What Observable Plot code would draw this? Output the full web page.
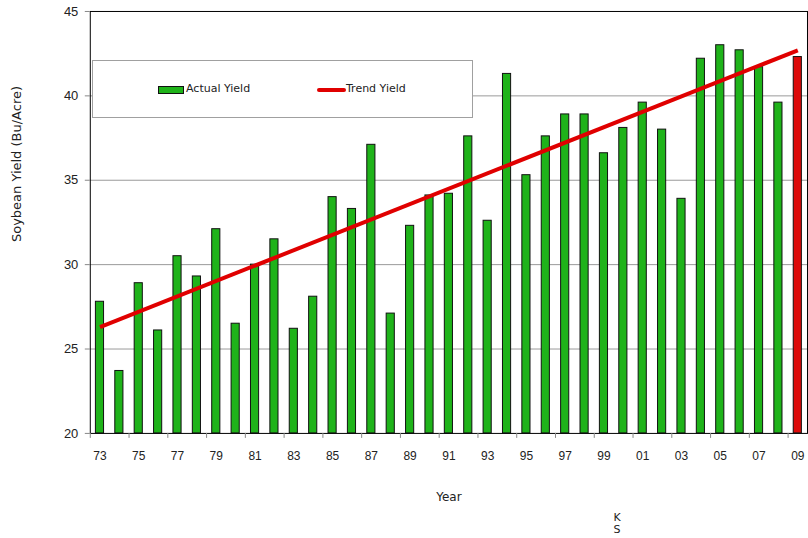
<!DOCTYPE html>
<html>
<head>
<meta charset="utf-8">
<script src="https://cdn.jsdelivr.net/npm/d3@7"></script>
<script src="https://cdn.jsdelivr.net/npm/@observablehq/plot@0.6"></script>
<style>
  html, body { margin: 0; padding: 0; background: #fff; }
  #wrap { position: relative; width: 808px; height: 538px; overflow: hidden; font-family: "DejaVu Sans", Verdana, sans-serif; }
  #wrap svg { position: absolute; left: 0; top: 0; }
  #legend { position: absolute; left: 92px; top: 60px; width: 381px; height: 58px; box-sizing: border-box;
            border: 1px solid #a0a0a0; background: #fff; font-size: 11px; color: #222; }
  .sw { position: absolute; box-sizing: border-box; }
  .lt { position: absolute; line-height: 14px; white-space: nowrap; }
  #note { position: absolute; left: 611px; top: 512px; width: 12px; text-align: center; font-size: 11px; line-height: 12px; color: #222; }
  #ytitle { position: absolute; left: 16.5px; top: 164px; width: 0; height: 0; }
  #ytitle span { position: absolute; white-space: nowrap; font-size: 13px; color: #222;
                 transform: translate(-50%, -50%) rotate(-90deg); left: 0; top: 0; line-height: 16px; }
</style>
</head>
<body>
<div id="wrap"></div>
<script>
// ---- data ----
const years = [1973,1974,1975,1976,1977,1978,1979,1980,1981,1982,1983,1984,1985,1986,1987,1988,1989,1990,1991,1992,1993,1994,1995,1996,1997,1998,1999,2000,2001,2002,2003,2004,2005,2006,2007,2008,2009];
const actualYield = [27.8,23.7,28.9,26.1,30.5,29.3,32.1,26.5,30.0,31.5,26.2,28.1,34.0,33.3,37.1,27.1,32.3,34.1,34.2,37.6,32.6,41.3,35.3,37.6,38.9,38.9,36.6,38.1,39.6,38.0,33.9,42.2,43.0,42.7,41.7,39.6,42.3];
const trendYears = [1973, 2009];
const trendYield = [26.3, 42.7];
const highlightYear = 2009;
const seriesNames = ["Actual Yield", "Trend Yield"];
const yTicks = [20, 25, 30, 35, 40, 45];
const xLabelYears = [1973,1975,1977,1979,1981,1983,1985,1987,1989,1991,1993,1995,1997,1999,2001,2003,2005,2007,2009];
const xTickLabels = ["73","75","77","79","81","83","85","87","89","91","93","95","97","99","01","03","05","07","09"];
const yTitle = "Soybean Yield (Bu/Acre)";
const xTitle = "Year";
const noteText = ["K", "S"];

const green = "#1fb31a";
const red = "#dd0a0a";

// ---- tables ----
const rows = years.map((y, i) => ({year: y, value: actualYield[i]}));
const trend = trendYears.map((y, i) => ({year: y, value: trendYield[i]}));
const half = 0.21;
const bandBoundaries = xLabelYears.map(y => y - 0.5);
const yMin = yTicks[0];

const chart = Plot.plot({
  width: 810,
  height: 538,
  marginTop: 11,
  marginBottom: 104,
  marginLeft: 90,
  marginRight: 1,
  style: {fontFamily: "DejaVu Sans, Verdana, sans-serif", fontSize: "11px", color: "#222", background: "transparent"},
  x: {domain: [years[0] - 0.5, years[years.length - 1] + 0.5]},
  y: {domain: [yTicks[0], yTicks[yTicks.length - 1]]},
  marks: [
    Plot.ruleY(yTicks.slice(1, -1), {stroke: "#9a9a9a", strokeWidth: 1}),
    Plot.rectY(rows, {
      x1: d => d.year - half,
      x2: d => d.year + half,
      y1: yMin,
      y2: "value",
      fill: d => d.year === highlightYear ? red : green,
      stroke: "#111",
      strokeWidth: 1
    }),
    Plot.frame({stroke: "#000", strokeWidth: 1}),
    Plot.line(trend, {x: "year", y: "value", stroke: "#e00000", strokeWidth: 4, strokeLinecap: "butt"}),
    Plot.axisY({
      ticks: yTicks, tickSize: 5, tickPadding: 7, stroke: "#888", fontSize: 13,
      fontFamily: "Liberation Sans, Arial, sans-serif", label: null
    }),
    Plot.axisX({ticks: bandBoundaries, tickSize: 5, tickFormat: () => "", stroke: "#888", label: null}),
    Plot.axisX({
      ticks: xLabelYears, tickSize: 0, tickPadding: 18, fontSize: 12,
      fontFamily: "Liberation Sans, Arial, sans-serif",
      tickFormat: d => xTickLabels[xLabelYears.indexOf(d)],
      label: xTitle, labelAnchor: "center", labelOffset: 68, labelArrow: "none"
    })
  ]
});

const wrap = document.getElementById("wrap");
wrap.appendChild(chart);

chart.querySelectorAll("text").forEach(t => {
  if (t.textContent === xTitle) { t.setAttribute("font-size", "12"); t.setAttribute("font-family", "DejaVu Sans, Verdana, sans-serif"); }
});

// ---- y title ----
const yt = document.createElement("div");
yt.id = "ytitle";
yt.innerHTML = `<span>${yTitle}</span>`;
wrap.appendChild(yt);

// ---- legend (inside plot area, as in reference) ----
const legend = document.createElement("div");
legend.id = "legend";
legend.innerHTML =
  `<div class="sw" style="left:65px;top:25px;width:26px;height:8px;background:${green};border:1px solid #111"></div>` +
  `<div class="lt" style="left:93px;top:21px">${seriesNames[0]}</div>` +
  `<div class="sw" style="left:224px;top:27px;width:29px;height:4px;background:#e00000;border-radius:2px"></div>` +
  `<div class="lt" style="left:253px;top:21px">${seriesNames[1]}</div>`;
wrap.appendChild(legend);

const note = document.createElement("div");
note.id = "note";
note.innerHTML = noteText.join("<br>");
wrap.appendChild(note);
</script>
</body>
</html>
